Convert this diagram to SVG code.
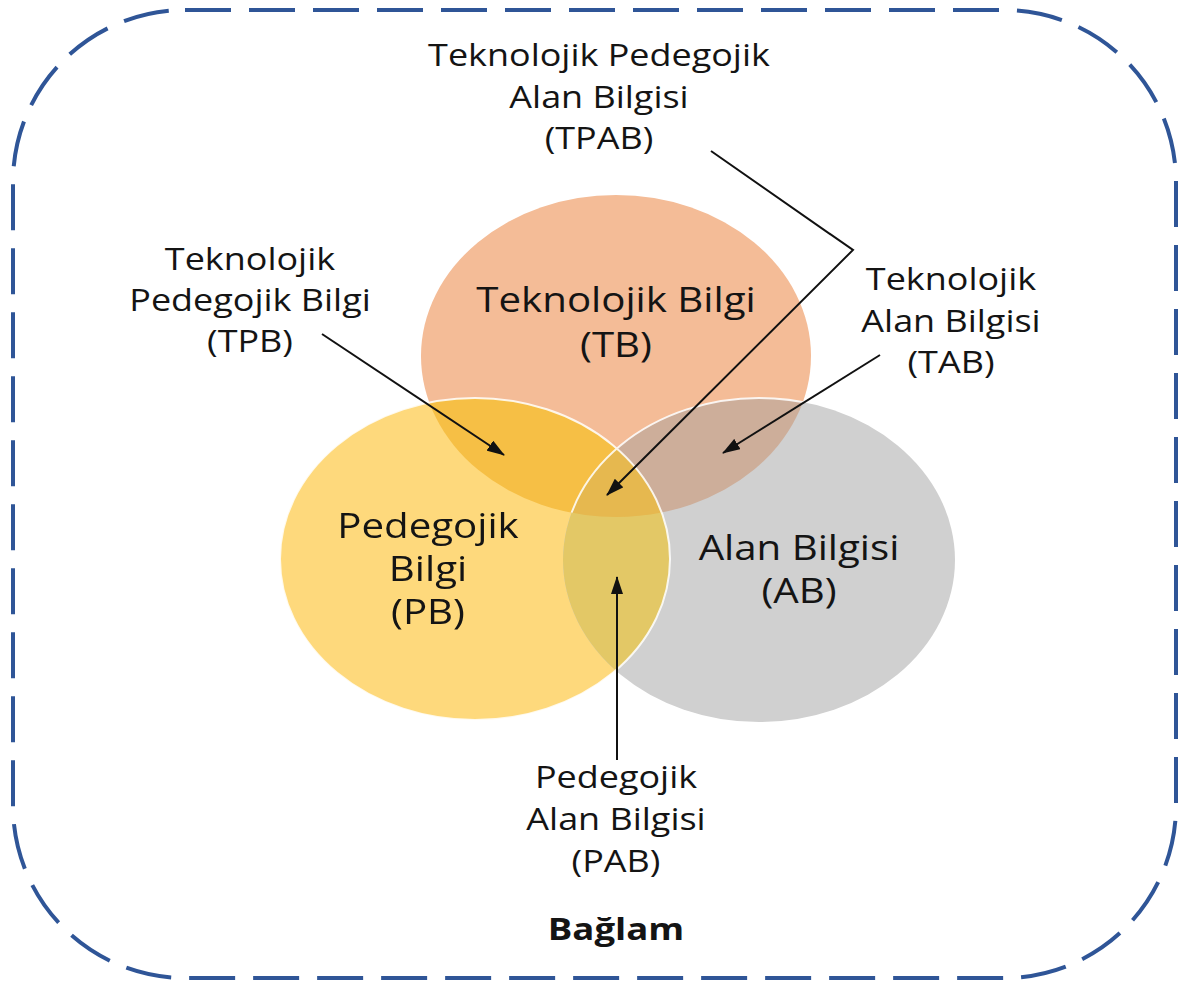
<svg xmlns="http://www.w3.org/2000/svg" width="1182" height="985" viewBox="0 0 1182 985">
<style>
.lbl{font-family:"Open Sans","Liberation Sans",sans-serif;fill:#141414;text-anchor:middle}
.main{font-size:35px}
.small{font-size:31px}
.conn{stroke:#111;stroke-width:2;fill:none}
</style>
<defs>
<marker id="ah" viewBox="0 0 18 12" markerWidth="18" markerHeight="12" refX="17" refY="6" orient="auto" markerUnits="userSpaceOnUse">
<path d="M0,0 L18,6 L0,12 z" fill="#111"/>
</marker>
<clipPath id="cTB"><ellipse cx="616" cy="356" rx="195" ry="161"/></clipPath>
<clipPath id="cPB"><ellipse cx="475" cy="559" rx="195" ry="161"/></clipPath>
<clipPath id="cPBTB" clip-path="url(#cTB)"><ellipse cx="475" cy="559" rx="195" ry="161"/></clipPath>
</defs>
<rect id="context-border" x="13" y="10" width="1163" height="968" rx="172" ry="172" fill="#fff" stroke="#2F5597" stroke-width="4" stroke-dasharray="46 18"/>
<g id="TB"><ellipse cx="616" cy="356" rx="195" ry="161" fill="#F4BC97"/></g>
<g id="PB"><ellipse cx="475" cy="559" rx="195" ry="161" fill="#FED97C"/></g>
<g id="AB"><ellipse cx="759" cy="560" rx="196" ry="162" fill="#D0D0D0"/></g>
<g id="TPB-region"><ellipse cx="475" cy="559" rx="195" ry="161" fill="#F6BF45" clip-path="url(#cTB)"/></g>
<g id="TAB-region"><ellipse cx="759" cy="560" rx="196" ry="162" fill="#CDAE9A" clip-path="url(#cTB)"/></g>
<g id="PAB-region"><ellipse cx="759" cy="560" rx="196" ry="162" fill="#E3C866" clip-path="url(#cPB)"/></g>
<g id="TPAB-region"><ellipse cx="759" cy="560" rx="196" ry="162" fill="#E6B84F" clip-path="url(#cPBTB)"/></g>
<g id="outlines" fill="none" stroke="#fff" stroke-width="2" opacity="0.85">
<ellipse cx="475" cy="559" rx="195" ry="161"/>
<ellipse cx="759" cy="560" rx="196" ry="162" clip-path="url(#cTB)"/>
</g>
<g id="label-TB" class="lbl main" transform="translate(616,0) scale(1.15,1)"><text x="0" y="312">Teknolojik Bilgi</text><text x="0" y="357">(TB)</text></g>
<g id="label-PB" class="lbl main" transform="translate(428,0) scale(1.15,1)"><text x="0" y="538">Pedegojik</text><text x="0" y="581">Bilgi</text><text x="0" y="624">(PB)</text></g>
<g id="label-AB" class="lbl main" transform="translate(799,0) scale(1.15,1)"><text x="0" y="560">Alan Bilgisi</text><text x="0" y="603">(AB)</text></g>
<g id="label-TPAB" class="lbl small" transform="translate(599,0) scale(1.16,1)"><text x="0" y="66">Teknolojik Pedegojik</text><text x="0" y="108">Alan Bilgisi</text><text x="0" y="149">(TPAB)</text></g>
<g id="label-TPB" class="lbl small" transform="translate(250,0) scale(1.16,1)"><text x="0" y="270">Teknolojik</text><text x="0" y="311">Pedegojik Bilgi</text><text x="0" y="352">(TPB)</text></g>
<g id="label-TAB" class="lbl small" transform="translate(951,0) scale(1.16,1)"><text x="0" y="290">Teknolojik</text><text x="0" y="332">Alan Bilgisi</text><text x="0" y="373">(TAB)</text></g>
<g id="label-PAB" class="lbl small" transform="translate(616,0) scale(1.16,1)"><text x="0" y="788">Pedegojik</text><text x="0" y="830">Alan Bilgisi</text><text x="0" y="872">(PAB)</text></g>
<g id="label-context" class="lbl" transform="translate(616,0) scale(1.18,1)"><text x="0" y="940" font-size="31" font-weight="bold">Bağlam</text></g>
<g id="connectors">
<path class="conn" d="M322,334 L504,455" marker-end="url(#ah)"/>
<path class="conn" d="M711,151 L853,250 L607,495" marker-end="url(#ah)"/>
<path class="conn" d="M880,355 L723,453" marker-end="url(#ah)"/>
<path class="conn" d="M617,760 L617,577" marker-end="url(#ah)"/>
</g>
</svg>
